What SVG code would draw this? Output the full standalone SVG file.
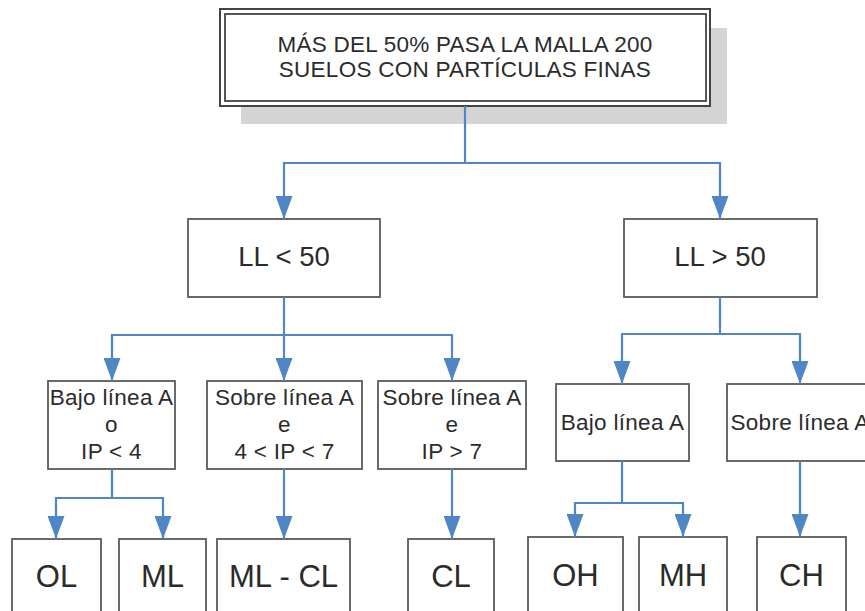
<svg xmlns="http://www.w3.org/2000/svg" width="865" height="611" viewBox="0 0 865 611">
  <style>
    .box { fill: #ffffff; stroke: #5a5a5a; stroke-width: 1.8; }
    .txt { font-family: "Liberation Sans", Arial, sans-serif; fill: #2b2b2b; text-anchor: middle; }
    .t1 { font-size: 22.5px; letter-spacing: 0.25px; }
    .t2 { font-size: 22.5px; letter-spacing: 0.3px; }
    .t3 { font-size: 27.5px; }
    .t4 { font-size: 31px; }
    .conn { fill: none; stroke: #4f86c6; stroke-width: 2.2; }
  </style>
  <defs>
    <marker id="arr" viewBox="0 0 23 17" refX="23" refY="8.5" markerWidth="23" markerHeight="17" markerUnits="userSpaceOnUse" orient="auto">
      <path d="M0,0 L23,8.5 L0,17 z" fill="#4f86c6"/>
    </marker>
  </defs>
  <rect width="865" height="611" fill="#ffffff"/>

  <g id="root">
    <rect x="241" y="28" width="486" height="96" fill="#d4d4d4"/>
    <rect x="220" y="9" width="490" height="97" fill="#ffffff" stroke="#444444" stroke-width="2"/>
    <rect x="225" y="14" width="481" height="87" fill="none" stroke="#444444" stroke-width="1.8"/>
    <text class="txt t1" x="465" y="52">MÁS DEL 50% PASA LA MALLA 200</text>
    <text class="txt t1" x="465" y="77">SUELOS CON PARTÍCULAS FINAS</text>
  </g>

  <g id="ll-menor-50">
    <rect class="box" x="188" y="219" width="192" height="78"/>
    <text class="txt t3" x="284" y="266">LL &lt; 50</text>
  </g>
  <g id="ll-mayor-50">
    <rect class="box" x="624" y="219" width="193" height="78"/>
    <text class="txt t3" x="720" y="266">LL &gt; 50</text>
  </g>

  <g id="bajo-linea-a-ip4">
    <rect class="box" x="48" y="381" width="127" height="88"/>
    <text class="txt t2" x="111.5" y="405">Bajo línea A</text>
    <text class="txt t2" x="111.5" y="432">o</text>
    <text class="txt t2" x="111.5" y="459">IP &lt; 4</text>
  </g>
  <g id="sobre-linea-a-4-7">
    <rect class="box" x="207" y="381" width="155" height="88"/>
    <text class="txt t2" x="284.5" y="405">Sobre línea A</text>
    <text class="txt t2" x="284.5" y="432">e</text>
    <text class="txt t2" x="284.5" y="459">4 &lt; IP &lt; 7</text>
  </g>
  <g id="sobre-linea-a-7">
    <rect class="box" x="378" y="381" width="148" height="88"/>
    <text class="txt t2" x="452" y="405">Sobre línea A</text>
    <text class="txt t2" x="452" y="432">e</text>
    <text class="txt t2" x="452" y="459">IP &gt; 7</text>
  </g>
  <g id="bajo-linea-a-h">
    <rect class="box" x="556" y="384" width="133" height="77"/>
    <text class="txt t2" x="622.5" y="430">Bajo línea A</text>
  </g>
  <g id="sobre-linea-a-h">
    <rect class="box" x="727" y="384" width="146" height="77"/>
    <text class="txt t2" x="800" y="430">Sobre línea A</text>
  </g>

  <g id="ol">
    <rect class="box" x="12" y="539" width="89" height="90"/>
    <text class="txt t4" x="56.5" y="587">OL</text>
  </g>
  <g id="ml">
    <rect class="box" x="119" y="539" width="87" height="90"/>
    <text class="txt t4" x="162.5" y="587">ML</text>
  </g>
  <g id="ml-cl">
    <rect class="box" x="217" y="539" width="133" height="90"/>
    <text class="txt t4" x="283.5" y="587">ML - CL</text>
  </g>
  <g id="cl">
    <rect class="box" x="408" y="539" width="86" height="90"/>
    <text class="txt t4" x="451" y="587">CL</text>
  </g>
  <g id="oh">
    <rect class="box" x="528" y="537" width="95" height="90"/>
    <text class="txt t4" x="575.5" y="586">OH</text>
  </g>
  <g id="mh">
    <rect class="box" x="639" y="537" width="88" height="90"/>
    <text class="txt t4" x="683" y="586">MH</text>
  </g>
  <g id="ch">
    <rect class="box" x="757" y="537" width="89" height="90"/>
    <text class="txt t4" x="801.5" y="586">CH</text>
  </g>

  <g id="connectors">
    <path class="conn" d="M465,106 V163 H284 V219" marker-end="url(#arr)"/>
    <path class="conn" d="M465,163 H720 V219" marker-end="url(#arr)"/>
    <path class="conn" d="M284,297 V335 H112 V381" marker-end="url(#arr)"/>
    <path class="conn" d="M284,335 V381" marker-end="url(#arr)"/>
    <path class="conn" d="M284,335 H452 V381" marker-end="url(#arr)"/>
    <path class="conn" d="M720,297 V334 H622 V384" marker-end="url(#arr)"/>
    <path class="conn" d="M720,334 H800 V384" marker-end="url(#arr)"/>
    <path class="conn" d="M112,469 V498 H56 V539" marker-end="url(#arr)"/>
    <path class="conn" d="M112,498 H163 V539" marker-end="url(#arr)"/>
    <path class="conn" d="M284,469 V539" marker-end="url(#arr)"/>
    <path class="conn" d="M452,469 V539" marker-end="url(#arr)"/>
    <path class="conn" d="M622,461 V503 H575 V537" marker-end="url(#arr)"/>
    <path class="conn" d="M622,503 H683 V537" marker-end="url(#arr)"/>
    <path class="conn" d="M800,461 V537" marker-end="url(#arr)"/>
  </g>
</svg>
